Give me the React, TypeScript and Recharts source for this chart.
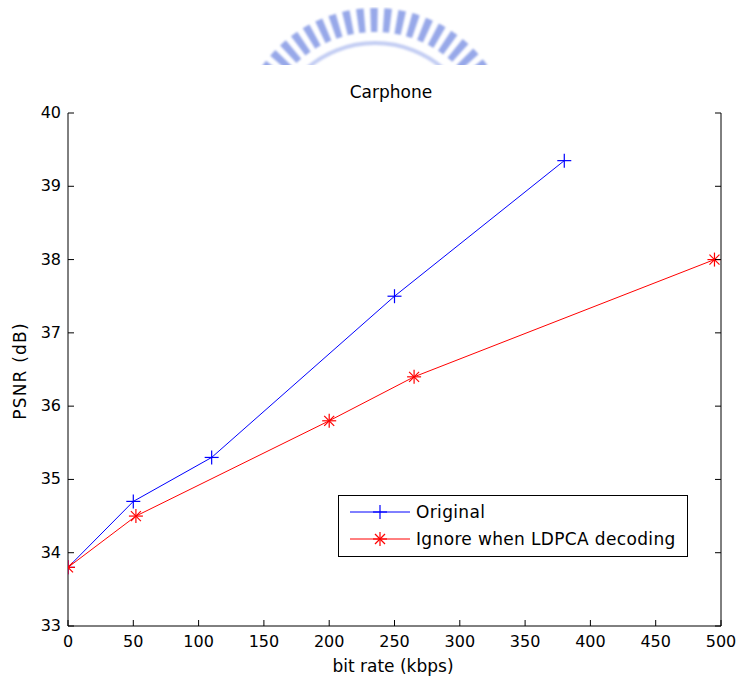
import React from "react";
import {
  LineChart,
  Line,
  XAxis,
  YAxis,
  Legend,
} from "recharts";

// Carphone: PSNR vs bit rate
const ORIGINAL_RATE = [0, 50, 110, 250, 380];
const ORIGINAL_PSNR = [33.8, 34.7, 35.3, 37.5, 39.35];
const IGNORE_RATE = [0, 52, 200, 265, 495];
const IGNORE_PSNR = [33.8, 34.5, 35.8, 36.4, 38.0];

const X_TICKS = [0, 50, 100, 150, 200, 250, 300, 350, 400, 450, 500];
const Y_TICKS = [33, 34, 35, 36, 37, 38, 39, 40];

const SERIES_NAMES = ["Original", "Ignore when LDPCA decoding"];

const originalData = ORIGINAL_RATE.map((rate, i) => ({ rate, psnr: ORIGINAL_PSNR[i] }));
const ignoreData = IGNORE_RATE.map((rate, i) => ({ rate, psnr: IGNORE_PSNR[i] }));

const FONT = "'DejaVu Sans', sans-serif";
const BLUE = "#0000ff";
const RED = "#ff0000";

const PlusMark = ({ cx, cy, color }: any) => (
  <g>
    <line x1={cx - 7} y1={cy} x2={cx + 7} y2={cy} stroke={color} strokeWidth={1.2} />
    <line x1={cx} y1={cy - 7} x2={cx} y2={cy + 7} stroke={color} strokeWidth={1.2} />
  </g>
);

const StarMark = ({ cx, cy, color }: any) => (
  <g>
    <line x1={cx - 7} y1={cy} x2={cx + 7} y2={cy} stroke={color} strokeWidth={1.2} />
    <line x1={cx} y1={cy - 7} x2={cx} y2={cy + 7} stroke={color} strokeWidth={1.2} />
    <line x1={cx - 5} y1={cy - 5} x2={cx + 5} y2={cy + 5} stroke={color} strokeWidth={1.2} />
    <line x1={cx - 5} y1={cy + 5} x2={cx + 5} y2={cy - 5} stroke={color} strokeWidth={1.2} />
  </g>
);

const bottomTick = ({ x, y, payload }: any) => (
  <g>
    <line x1={x} y1={y} x2={x} y2={y - 6} stroke="#000" />
    <text x={x} y={y + 21} textAnchor="middle" fontFamily={FONT} fontSize={16} fill="#000">
      {payload.value}
    </text>
  </g>
);

const topTick = ({ x, y }: any) => (
  <line x1={x} y1={y} x2={x} y2={y + 6} stroke="#000" />
);

const leftTick = ({ x, y, payload }: any) => (
  <g>
    <line x1={x} y1={y} x2={x + 6} y2={y} stroke="#000" />
    <text x={x - 7} y={y + 5} textAnchor="end" fontFamily={FONT} fontSize={16} fill="#000">
      {payload.value}
    </text>
  </g>
);

const rightTick = ({ x, y }: any) => (
  <line x1={x} y1={y} x2={x - 6} y2={y} stroke="#000" />
);

const renderLegend = () => (
  <svg width={351} height={63} style={{ display: "block" }}>
    <rect x={0.5} y={0.5} width={349} height={61} fill="#fff" stroke="#000" />
    <line x1={12} y1={17} x2={72} y2={17} stroke={BLUE} />
    <PlusMark cx={42} cy={17} color={BLUE} />
    <text x={78} y={23} fontFamily={FONT} fontSize={17} letterSpacing={0.35} fill="#000">
      {SERIES_NAMES[0]}
    </text>
    <line x1={12} y1={44} x2={72} y2={44} stroke={RED} />
    <StarMark cx={42} cy={44} color={RED} />
    <text x={78} y={50} fontFamily={FONT} fontSize={17} letterSpacing={0.35} fill="#000">
      {SERIES_NAMES[1]}
    </text>
  </svg>
);

// faint logo watermark at the top of the page
const Watermark = () => {
  const cx = 375;
  const cy = 147;
  const arc = (r: number) =>
    `M ${cx - r} ${cy} A ${r} ${r} 0 0 1 ${cx + r} ${cy}`;
  return (
    <svg
      width={739}
      height={70}
      style={{ position: "absolute", left: 0, top: 0, pointerEvents: "none" }}
    >
      <defs>
        <clipPath id="wm-clip">
          <rect x={0} y={0} width={739} height={65} />
        </clipPath>
        <filter id="wm-blur">
          <feGaussianBlur stdDeviation={0.9} />
        </filter>
      </defs>
      <g clipPath="url(#wm-clip)" filter="url(#wm-blur)">
        <path d={arc(127)} fill="none" stroke="#7d92e3" strokeWidth={24} strokeDasharray="7 6" opacity={0.8} />
        <path d={arc(104)} fill="none" stroke="#aab8ee" strokeWidth={4} opacity={0.7} />
      </g>
    </svg>
  );
};

export default function App() {
  return (
    <div style={{ position: "relative", width: 739, height: 681, background: "#fff" }}>
      <style>{`body{margin:0}`}</style>
      <Watermark />
      <LineChart
        width={739}
        height={681}
        margin={{ top: 113, right: 0, bottom: 0, left: 0 }}
      >
        <XAxis
          dataKey="rate"
          type="number"
          domain={[0, 500]}
          ticks={X_TICKS}
          allowDataOverflow
          height={55}
          tickSize={0}
          tickMargin={0}
          tickLine={false}
          tick={bottomTick}
          interval={0}
          axisLine={{ stroke: "#000" }}
        />
        <XAxis
          xAxisId="top"
          orientation="top"
          dataKey="rate"
          type="number"
          domain={[0, 500]}
          ticks={X_TICKS}
          allowDataOverflow
          height={0}
          tickSize={0}
          tickMargin={0}
          tickLine={false}
          tick={topTick}
          interval={0}
          axisLine={{ stroke: "#000" }}
        />
        <YAxis
          type="number"
          domain={[33, 40]}
          ticks={Y_TICKS}
          allowDataOverflow
          width={68}
          tickSize={0}
          tickMargin={0}
          tickLine={false}
          tick={leftTick}
          interval={0}
          axisLine={{ stroke: "#000" }}
        />
        <YAxis
          yAxisId="right"
          orientation="right"
          type="number"
          domain={[33, 40]}
          ticks={Y_TICKS}
          allowDataOverflow
          width={18}
          tickSize={0}
          tickMargin={0}
          tickLine={false}
          tick={rightTick}
          interval={0}
          axisLine={{ stroke: "#000" }}
        />
        <Line
          data={originalData}
          dataKey="psnr"
          name={SERIES_NAMES[0]}
          stroke={BLUE}
          strokeWidth={1}
          isAnimationActive={false}
          dot={(p: any) => <PlusMark key={`o-${p.index}`} cx={p.cx} cy={p.cy} color={BLUE} />}
          activeDot={false}
        />
        <Line
          data={ignoreData}
          dataKey="psnr"
          name={SERIES_NAMES[1]}
          stroke={RED}
          strokeWidth={1}
          isAnimationActive={false}
          dot={(p: any) => <StarMark key={`i-${p.index}`} cx={p.cx} cy={p.cy} color={RED} />}
          activeDot={false}
        />
        <Legend
          layout="vertical"
          align="center"
          verticalAlign="middle"
          wrapperStyle={{ position: "absolute", left: 338, top: 495, width: 351, height: 63 }}
          content={renderLegend}
        />
      </LineChart>
      <svg
        width={739}
        height={681}
        style={{ position: "absolute", left: 0, top: 0, pointerEvents: "none" }}
      >
        <text x={391} y={98} textAnchor="middle" fontFamily={FONT} fontSize={17} fill="#000">
          Carphone
        </text>
        <text x={393} y={672} textAnchor="middle" fontFamily={FONT} fontSize={17} fill="#000">
          bit rate (kbps)
        </text>
        <text
          x={26}
          y={371}
          textAnchor="middle"
          fontFamily={FONT}
          fontSize={17}
          letterSpacing={1.2}
          fill="#000"
          transform="rotate(-90 26 371)"
        >
          PSNR (dB)
        </text>
      </svg>
    </div>
  );
}
